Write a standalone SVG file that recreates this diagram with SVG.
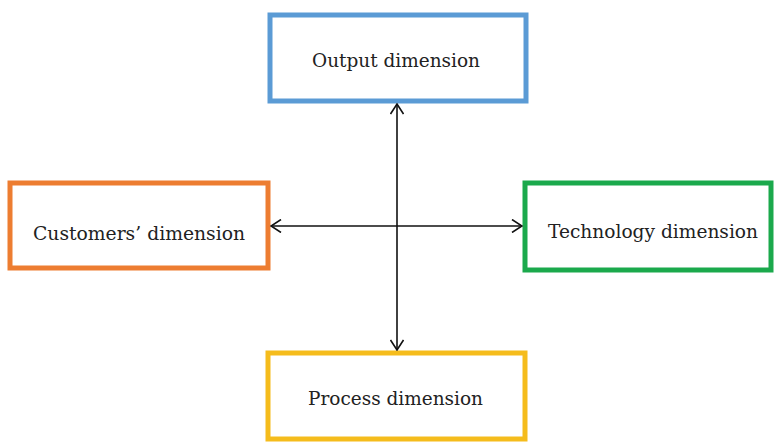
<svg xmlns="http://www.w3.org/2000/svg" width="774" height="444" viewBox="0 0 774 444">
<style>
.box{fill:#fff;stroke-width:5}
.lbl{font-family:"DejaVu Serif","Liberation Serif",serif;font-size:18px;fill:#222;text-anchor:middle}
.conn{stroke:#111;stroke-width:1.6;fill:none}
</style>
<defs>
<marker id="ah" viewBox="0 0 12 14" refX="11" refY="7" markerWidth="12" markerHeight="14" markerUnits="userSpaceOnUse" orient="auto-start-reverse">
<path d="M1,0.5 L11,7 L1,13.5" fill="none" stroke="#111" stroke-width="1.6"/>
</marker>
</defs>
<rect width="774" height="444" fill="#fff"/>
<g id="output">
<rect class="box" x="270" y="15" width="256" height="86" stroke="#5B9BD5"/>
<text class="lbl" x="396" y="67" textLength="168" lengthAdjust="spacingAndGlyphs">Output dimension</text>
</g>
<g id="customers">
<rect class="box" x="10" y="183" width="258" height="85" stroke="#ED7D31"/>
<text class="lbl" x="139" y="240" textLength="212" lengthAdjust="spacingAndGlyphs">Customers’ dimension</text>
</g>
<g id="technology">
<rect class="box" x="525" y="183" width="246" height="87" stroke="#1BA94C"/>
<text class="lbl" x="653" y="238" textLength="210" lengthAdjust="spacingAndGlyphs">Technology dimension</text>
</g>
<g id="process">
<rect class="box" x="268" y="353" width="257" height="86" stroke="#F5BC1C"/>
<text class="lbl" x="395.5" y="405" textLength="175" lengthAdjust="spacingAndGlyphs">Process dimension</text>
</g>
<g id="connectors">
<line class="conn" x1="397" y1="104" x2="397" y2="350" marker-start="url(#ah)" marker-end="url(#ah)"/>
<line class="conn" x1="271" y1="226" x2="522" y2="226" marker-start="url(#ah)" marker-end="url(#ah)"/>
</g>
</svg>
